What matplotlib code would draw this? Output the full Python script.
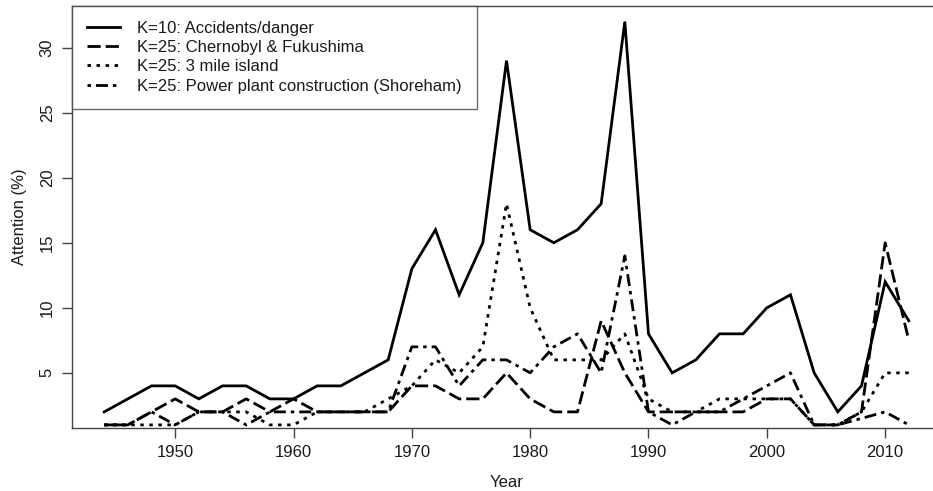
import matplotlib
matplotlib.use("Agg")
import matplotlib.pyplot as plt

plt.rcParams['font.family'] = ['Liberation Sans', 'DejaVu Sans']
plt.rcParams['lines.scale_dashes'] = False

years = list(range(1944, 2013, 2))

accidents = [2, 3, 4, 4, 3, 4, 4, 3, 3, 4, 4, 5, 6, 13, 16, 11, 15, 29, 16, 15,
             16, 18, 32, 8, 5, 6, 8, 8, 10, 11, 5, 2, 4, 12, 9]
chernobyl = [1, 1, 2, 3, 2, 2, 3, 2, 3, 2, 2, 2, 2, 4, 4, 3, 3, 5, 3, 2,
             2, 9, 5, 2, 2, 2, 2, 2, 3, 3, 1, 1, 2, 15, 7.5]
three_mile = [1, 1, 1, 1, 2, 2, 2, 1, 1, 2, 2, 2, 3, 4, 6, 5, 7, 18, 10, 6,
              6, 6, 8, 3, 2, 2, 3, 3, 3, 3, 1, 1, 2, 5, 5]
shoreham = [1, 1, 2, 1, 2, 2, 1, 2, 2, 2, 2, 2, 2, 7, 7, 4, 6, 6, 5, 7,
            8, 5, 14, 2, 1, 2, 2, 3, 4, 5, 1, 1, 1.5, 2, 1]

labels = ["K=10: Accidents/danger",
          "K=25: Chernobyl & Fukushima",
          "K=25: 3 mile island",
          "K=25: Power plant construction (Shoreham)"]

W, H = 933, 491
fig = plt.figure(figsize=(W / 100, H / 100), dpi=100)
left, right, top, bottom = 72, 941, 6, 427.5
ax = fig.add_axes([left / W, 1 - bottom / H, (right - left) / W, (bottom - top) / H])

lw = 2.0
styles = [
    '-',
    (0, (9.5, 3.6)),
    (0, (2.5, 4.0)),
    (0, (2.5, 3.6, 8.6, 3.6)),
]
series = [accidents, chernobyl, three_mile, shoreham]
for s, ls, lab in zip(series, styles, labels):
    ax.plot(years, s, color='black', lw=lw, linestyle=ls, label=lab,
            dash_capstyle='butt', solid_joinstyle='miter')

ax.set_xlim(1941.28, 2014.72)
ax.set_ylim(0.8, 33.2)
ax.set_xticks([1950, 1960, 1970, 1980, 1990, 2000, 2010])
ax.set_yticks([5, 10, 15, 20, 25, 30])

fs = 12
tc = '#1a1a1a'
ax.tick_params(axis='both', direction='out', length=7.5, width=1.0, color='#444444',
               labelsize=fs, labelcolor=tc)
ax.tick_params(axis='x', pad=5)
ax.tick_params(axis='y', pad=5)
for lab in ax.get_yticklabels():
    lab.set_rotation(90)
    lab.set_va('center')
for sp in ax.spines.values():
    sp.set_color('#444444')
    sp.set_linewidth(1.0)

ax.set_xlabel('Year', fontsize=fs, color=tc, labelpad=11)
ax.set_ylabel('Attention (%)', fontsize=fs, color=tc, labelpad=9)

leg = ax.legend(loc='upper left', bbox_to_anchor=(0, 1), borderaxespad=0,
                frameon=True, fancybox=False, fontsize=fs, handlelength=2.0,
                handletextpad=1.0, labelspacing=0.25, borderpad=0.9)
leg.get_frame().set_edgecolor('#444444')
leg.get_frame().set_linewidth(1.0)
for t in leg.get_texts():
    t.set_color(tc)

fig.savefig('out.png', dpi=100)
